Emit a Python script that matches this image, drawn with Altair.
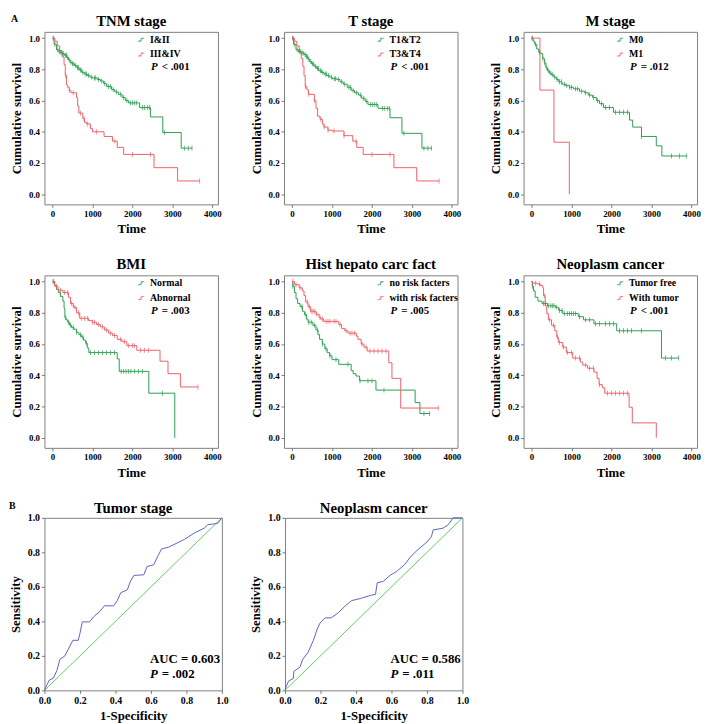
import altair as alt
import pandas as pd

GREEN = "#2a9e4e"
RED = "#ee6068"
BLUE = "#5a64c0"
DIAG = "#5fd060"
FONT = "Liberation Serif"

# ---------------- KM data ----------------
tnm_groups = ["I&II", "III&IV"]
tnm_g_t = [0, 40, 100, 160, 230, 300, 360, 400, 440, 490, 550, 610, 670, 740, 800, 870, 940, 1000, 1120, 1200, 1280, 1350, 1480, 1560, 1650, 1740, 1820, 1900, 2180, 2450, 2760, 3220, 3490]
tnm_g_s = [1.0, 0.96, 0.925, 0.91, 0.9, 0.89, 0.875, 0.86, 0.845, 0.835, 0.825, 0.81, 0.795, 0.78, 0.77, 0.76, 0.75, 0.745, 0.735, 0.725, 0.71, 0.69, 0.67, 0.655, 0.64, 0.62, 0.6, 0.585, 0.555, 0.495, 0.395, 0.295, 0.295]
tnm_g_c = [20, 60, 130, 180, 210, 250, 280, 330, 350, 380, 420, 460, 500, 530, 580, 630, 650, 700, 720, 760, 820, 850, 900, 980, 1050, 1080, 1150, 1230, 1300, 1400, 1450, 1520, 1600, 1700, 1780, 1860, 1950, 2000, 2050, 2100, 2250, 2300, 2380, 2430, 2800, 3300, 3400, 3490]
tnm_r_t = [0, 60, 120, 180, 240, 290, 320, 350, 380, 420, 460, 600, 630, 660, 760, 800, 850, 950, 1000, 1290, 1500, 1620, 1780, 2540, 3130, 3680]
tnm_r_s = [1.0, 0.98, 0.95, 0.92, 0.88, 0.83, 0.76, 0.70, 0.685, 0.665, 0.65, 0.62, 0.565, 0.52, 0.485, 0.46, 0.45, 0.42, 0.40, 0.37, 0.34, 0.30, 0.255, 0.17, 0.085, 0.085]
tnm_r_c = [25, 330, 420, 520, 700, 790, 880, 1100, 1560, 2000, 2450, 3680]

t_groups = ["T1&T2", "T3&T4"]
t_g_t = [0, 40, 100, 160, 230, 300, 350, 400, 440, 490, 550, 610, 670, 740, 800, 870, 940, 1000, 1120, 1200, 1280, 1380, 1480, 1560, 1660, 1740, 1830, 1900, 2150, 2450, 2750, 3250, 3490]
t_g_s = [1.0, 0.96, 0.925, 0.915, 0.905, 0.895, 0.88, 0.865, 0.85, 0.835, 0.82, 0.805, 0.79, 0.78, 0.77, 0.76, 0.75, 0.74, 0.735, 0.72, 0.705, 0.685, 0.665, 0.65, 0.635, 0.615, 0.595, 0.575, 0.55, 0.49, 0.39, 0.295, 0.295]
t_g_c = [20, 60, 130, 180, 210, 250, 280, 330, 360, 390, 420, 470, 510, 540, 590, 640, 660, 710, 730, 770, 830, 860, 910, 990, 1060, 1090, 1160, 1240, 1310, 1420, 1460, 1530, 1610, 1710, 1790, 1870, 1960, 2010, 2060, 2110, 2260, 2310, 2390, 2440, 2800, 3300, 3400, 3490]
t_r_t = [0, 60, 120, 180, 230, 270, 300, 330, 370, 410, 560, 600, 640, 700, 760, 800, 900, 1000, 1300, 1520, 1620, 1780, 2550, 3120, 3680]
t_r_s = [1.0, 0.98, 0.95, 0.91, 0.87, 0.82, 0.76, 0.69, 0.67, 0.64, 0.6, 0.55, 0.5, 0.48, 0.45, 0.43, 0.41, 0.405, 0.375, 0.34, 0.30, 0.255, 0.17, 0.085, 0.085]
t_r_c = [25, 340, 420, 560, 720, 800, 900, 1050, 1300, 1600, 2000, 2450, 3680]

m_groups = ["M0", "M1"]
m_g_t = [0, 40, 80, 130, 180, 230, 280, 320, 360, 400, 450, 500, 560, 620, 680, 760, 850, 950, 1050, 1200, 1320, 1420, 1520, 1620, 1700, 1800, 2050, 2450, 2530, 2750, 3120, 3260, 3880]
m_g_s = [1.0, 0.98, 0.96, 0.93, 0.91, 0.9, 0.87, 0.84, 0.81, 0.79, 0.775, 0.765, 0.75, 0.735, 0.72, 0.705, 0.695, 0.685, 0.675, 0.66, 0.65, 0.635, 0.62, 0.6, 0.58, 0.555, 0.525, 0.475, 0.43, 0.37, 0.31, 0.245, 0.245]
m_g_c = [20, 100, 200, 280, 330, 380, 430, 480, 530, 580, 640, 700, 750, 820, 880, 950, 1000, 1100, 1150, 1250, 1350, 1450, 1550, 1650, 1750, 1850, 1950, 2100, 2200, 2300, 2400, 2750, 3500, 3700, 3880]
m_r_t = [0, 210, 560, 945]
m_r_s = [1.0, 0.667, 0.333, 0.0]
m_r_c = [10]

bmi_groups = ["Normal", "Abnornal"]
bmi_g_t = [0, 50, 100, 150, 200, 260, 290, 310, 340, 380, 430, 480, 540, 600, 660, 720, 780, 830, 870, 910, 1620, 1670, 2410, 3060]
bmi_g_s = [1.0, 0.975, 0.95, 0.93, 0.905, 0.875, 0.83, 0.77, 0.755, 0.74, 0.72, 0.705, 0.695, 0.675, 0.66, 0.645, 0.625, 0.605, 0.575, 0.545, 0.505, 0.425, 0.285, 0.0]
bmi_g_c = [20, 330, 400, 450, 520, 600, 700, 760, 850, 950, 1050, 1150, 1250, 1350, 1450, 1550, 1720, 1780, 1840, 1900, 1960, 2050, 2150, 2250, 2750]
bmi_r_t = [0, 60, 140, 260, 400, 450, 520, 600, 680, 900, 1000, 1100, 1200, 1300, 1400, 1500, 1620, 1740, 1860, 2110, 2690, 2890, 3200, 3640]
bmi_r_s = [1.0, 0.97, 0.945, 0.93, 0.9, 0.86, 0.835, 0.8, 0.765, 0.75, 0.74, 0.725, 0.71, 0.69, 0.67, 0.655, 0.63, 0.615, 0.59, 0.56, 0.49, 0.41, 0.325, 0.325]
bmi_r_c = [20, 100, 200, 300, 380, 480, 560, 650, 720, 800, 880, 1000, 1050, 1150, 1250, 1350, 1450, 1550, 1700, 1800, 1900, 2000, 2050, 2200, 2300, 2400, 3640]

hist_groups = ["no risk facters", "with risk facters"]
hist_g_t = [0, 20, 60, 100, 140, 200, 260, 310, 360, 400, 520, 600, 650, 690, 760, 820, 880, 940, 1000, 1170, 1480, 1530, 1600, 1690, 2100, 3080, 3200, 3440]
hist_g_s = [1.0, 0.97, 0.93, 0.89, 0.86, 0.84, 0.81, 0.79, 0.76, 0.74, 0.72, 0.69, 0.66, 0.63, 0.6, 0.57, 0.545, 0.525, 0.5, 0.47, 0.43, 0.41, 0.395, 0.365, 0.305, 0.225, 0.155, 0.155]
hist_g_c = [20, 250, 330, 420, 480, 560, 640, 760, 850, 950, 1100, 1400, 1700, 1900, 2000, 2300, 3300, 3440]
hist_r_t = [0, 60, 180, 260, 300, 340, 400, 460, 600, 680, 720, 790, 1170, 1240, 1320, 1400, 1610, 1650, 1730, 1800, 1880, 2420, 2500, 2720, 3660]
hist_r_s = [1.0, 0.98, 0.96, 0.94, 0.91, 0.87, 0.84, 0.81, 0.79, 0.77, 0.76, 0.745, 0.725, 0.70, 0.685, 0.67, 0.65, 0.63, 0.6, 0.58, 0.555, 0.48, 0.38, 0.19, 0.19]
hist_r_c = [20, 100, 200, 380, 430, 480, 520, 560, 620, 700, 760, 850, 900, 950, 1050, 1100, 1200, 1350, 1450, 1500, 1560, 1750, 1850, 1950, 2050, 2150, 2250, 2350, 3660]

neo_groups = ["Tumor free", "With tumor"]
neo_g_t = [0, 20, 50, 90, 160, 260, 400, 600, 680, 780, 1170, 1300, 1560, 2130, 3250, 3680]
neo_g_s = [1.0, 0.97, 0.94, 0.9, 0.875, 0.86, 0.845, 0.835, 0.815, 0.795, 0.775, 0.755, 0.73, 0.685, 0.51, 0.51]
neo_g_c = [20, 300, 350, 420, 480, 520, 560, 620, 700, 760, 820, 900, 950, 1000, 1050, 1100, 1200, 1350, 1450, 1600, 1700, 1850, 1950, 2050, 2200, 2300, 2400, 2500, 2750, 3350, 3500, 3680]
neo_r_t = [0, 20, 140, 220, 280, 300, 340, 380, 420, 500, 580, 630, 670, 780, 870, 1030, 1220, 1280, 1400, 1560, 1640, 1690, 1770, 1830, 2440, 2520, 3120]
neo_r_s = [1.0, 0.99, 0.985, 0.975, 0.96, 0.91, 0.845, 0.795, 0.755, 0.72, 0.685, 0.645, 0.61, 0.58, 0.545, 0.51, 0.485, 0.465, 0.445, 0.42, 0.38, 0.34, 0.32, 0.285, 0.195, 0.095, 0.0]
neo_r_c = [20, 100, 200, 320, 450, 550, 650, 700, 800, 900, 1000, 1100, 1200, 1350, 1450, 1550, 1700, 1900, 2000, 2100, 2200, 2300, 2400]

km_titles = ["TNM stage", "T stage", "M stage", "BMI", "Hist hepato carc fact", "Neoplasm cancer"]
km_p_ops = ["<", "<", "=", "=", "=", "<"]
km_p_vals = [".001", ".001", ".012", ".003", ".005", ".001"]
x_ticks = [0, 1000, 2000, 3000, 4000]
y_ticks = [0.0, 0.2, 0.4, 0.6, 0.8, 1.0]

# ---------------- ROC data ----------------
roc_titles = ["Tumor stage", "Neoplasm cancer"]
roc1_fpr = [0, 0.013, 0.028, 0.05, 0.07, 0.087, 0.115, 0.133, 0.16, 0.19, 0.2, 0.213, 0.254, 0.28, 0.31, 0.337, 0.39, 0.41, 0.43, 0.467, 0.485, 0.504, 0.56, 0.578, 0.615, 0.64, 0.66, 0.70, 0.735, 0.79, 0.846, 0.9, 0.92, 0.976, 1.0]
roc1_tpr = [0, 0.03, 0.06, 0.07, 0.115, 0.18, 0.2, 0.236, 0.29, 0.29, 0.33, 0.397, 0.397, 0.43, 0.455, 0.49, 0.49, 0.52, 0.566, 0.583, 0.634, 0.666, 0.67, 0.718, 0.727, 0.78, 0.82, 0.83, 0.848, 0.876, 0.913, 0.94, 0.96, 0.968, 1.0]
roc2_fpr = [0, 0.01, 0.02, 0.047, 0.05, 0.084, 0.1, 0.13, 0.16, 0.18, 0.197, 0.225, 0.26, 0.3, 0.34, 0.375, 0.43, 0.48, 0.51, 0.52, 0.553, 0.59, 0.63, 0.675, 0.71, 0.75, 0.8, 0.825, 0.835, 0.89, 0.92, 0.947, 1.0]
roc2_tpr = [0, 0.03, 0.054, 0.069, 0.11, 0.134, 0.18, 0.22, 0.29, 0.35, 0.39, 0.42, 0.42, 0.45, 0.49, 0.52, 0.534, 0.55, 0.557, 0.624, 0.631, 0.665, 0.69, 0.73, 0.777, 0.817, 0.86, 0.89, 0.93, 0.94, 0.96, 1.0, 1.0]
roc_auc = ["AUC = 0.603", "AUC = 0.586"]
roc_p = [".002", ".011"]
diag = [0.0, 1.0]
roc_ticks = [0.0, 0.2, 0.4, 0.6, 0.8, 1.0]

KW, KH = 176, 175
RW, RH = 180, 175


def surv_at(ts, ss, t):
    v = ss[0]
    for ti, si in zip(ts, ss):
        if ti <= t:
            v = si
    return v


def txt(s, x, y, size=11, italic=False, align="left"):
    return alt.Chart(pd.DataFrame({"t": [s]})).mark_text(
        font=FONT, fontWeight="bold", fontStyle="italic" if italic else "normal",
        fontSize=size, align=align, baseline="middle", color="black"
    ).encode(text="t:N", x=alt.value(x), y=alt.value(y))


def km_panel(title, groups, g, r, p_op, p_val, extra=None):
    rows, crow = [], []
    for name, (ts, ss, cs) in zip(groups, [g, r]):
        for t, s in zip(ts, ss):
            rows.append({"time": t, "surv": s, "group": name})
        for c in cs:
            crow.append({"time": c, "surv": surv_at(ts, ss, c), "group": name})
    df = pd.DataFrame(rows)
    cdf = pd.DataFrame(crow)
    xenc = alt.X("time:Q", scale=alt.Scale(domain=[-200, 4140], nice=False, zero=False),
                 axis=alt.Axis(values=x_ticks, title="Time", format="d", labelFontSize=9))
    yenc = alt.Y("surv:Q", scale=alt.Scale(domain=[-0.065, 1.04], nice=False, zero=False),
                 axis=alt.Axis(values=y_ticks, title="Cumulative survival", format=".1f", labelFontSize=9))
    leg = alt.Legend(orient="none", legendX=93, legendY=3, title=None,
                     symbolType="M-1,0.5L0,0.5L0,-0.5L1,-0.5", symbolSize=40,
                     symbolStrokeWidth=1, symbolFillColor="transparent",
                     labelFont=FONT, labelFontWeight="bold", labelFontSize=10,
                     labelColor="black", rowPadding=5, labelOffset=4, padding=0)
    cenc = alt.Color("group:N", scale=alt.Scale(domain=groups, range=[GREEN, RED]), legend=leg)
    line = alt.Chart(df).mark_line(interpolate="step-after", strokeWidth=1).encode(x=xenc, y=yenc, color=cenc)
    ticks = alt.Chart(cdf).mark_tick(orient="vertical", size=5, thickness=1).encode(x=xenc, y=yenc, color=cenc)
    layers = [line, ticks, txt(title, KW / 2, -11, size=15, align="center"),
              txt("P", 108, 36, italic=True), txt(p_op + "  " + p_val, 119, 36)]
    if extra is not None:
        layers.append(extra)
    return alt.layer(*layers).properties(width=KW, height=KH)


def roc_panel(title, fpr, tpr, auc, pv, extra=None):
    df = pd.DataFrame({"fpr": fpr, "tpr": tpr, "i": list(range(len(fpr)))})
    dd = pd.DataFrame({"fpr": diag, "tpr": diag, "i": [0, 1]})
    xenc = alt.X("fpr:Q", scale=alt.Scale(domain=[0, 1], nice=False),
                 axis=alt.Axis(values=roc_ticks, title="1-Specificity", format=".1f", labelFontSize=10))
    yenc = alt.Y("tpr:Q", scale=alt.Scale(domain=[0, 1], nice=False),
                 axis=alt.Axis(values=roc_ticks, title="Sensitivity", format=".1f", labelFontSize=10))
    d = alt.Chart(dd).mark_line(color=DIAG, strokeWidth=1).encode(x=xenc, y=yenc, order="i:Q")
    c = alt.Chart(df).mark_line(color=BLUE, strokeWidth=1).encode(x=xenc, y=yenc, order="i:Q")
    layers = [d, c, txt(title, RW / 2, -10, size=15, align="center"),
              txt(auc, 107, 143, size=13), txt("P", 107, 158, size=13, italic=True),
              txt("=  " + pv, 119, 158, size=13)]
    if extra is not None:
        layers.append(extra)
    return alt.layer(*layers).properties(width=RW, height=RH)


labA = txt("A", -34, -13, size=10)
labB = txt("B", -36, -12, size=10)

p1 = km_panel(km_titles[0], tnm_groups, (tnm_g_t, tnm_g_s, tnm_g_c), (tnm_r_t, tnm_r_s, tnm_r_c), km_p_ops[0], km_p_vals[0], labA)
p2 = km_panel(km_titles[1], t_groups, (t_g_t, t_g_s, t_g_c), (t_r_t, t_r_s, t_r_c), km_p_ops[1], km_p_vals[1])
p3 = km_panel(km_titles[2], m_groups, (m_g_t, m_g_s, m_g_c), (m_r_t, m_r_s, m_r_c), km_p_ops[2], km_p_vals[2])
p4 = km_panel(km_titles[3], bmi_groups, (bmi_g_t, bmi_g_s, bmi_g_c), (bmi_r_t, bmi_r_s, bmi_r_c), km_p_ops[3], km_p_vals[3])
p5 = km_panel(km_titles[4], hist_groups, (hist_g_t, hist_g_s, hist_g_c), (hist_r_t, hist_r_s, hist_r_c), km_p_ops[4], km_p_vals[4])
p6 = km_panel(km_titles[5], neo_groups, (neo_g_t, neo_g_s, neo_g_c), (neo_r_t, neo_r_s, neo_r_c), km_p_ops[5], km_p_vals[5])
r1 = roc_panel(roc_titles[0], roc1_fpr, roc1_tpr, roc_auc[0], roc_p[0], labB)
r2 = roc_panel(roc_titles[1], roc2_fpr, roc2_tpr, roc_auc[1], roc_p[1])

row1 = alt.hconcat(p1, p2, p3, spacing=28).resolve_scale(color="independent").resolve_legend(color="independent")
row2 = alt.hconcat(p4, p5, p6, spacing=28).resolve_scale(color="independent").resolve_legend(color="independent")
row3 = alt.hconcat(r1, r2, spacing=21)

chart = alt.vconcat(row1, row2, row3, spacing=20).resolve_scale(color="independent").resolve_legend(color="independent").properties(
    padding=0, background="white"
).configure_axis(
    labelFont=FONT, labelFontWeight="bold", labelColor="black", labelFlush=False, labelOverlap=False,
    titleFont=FONT, titleFontWeight="bold", titleFontSize=13, titleColor="black",
    grid=False, domain=False, tickColor="#777777", tickSize=3, labelPadding=2, titlePadding=5
).configure_view(stroke="#7f7f7f", strokeWidth=1)

chart.save("out.html", embed_options={"renderer": "svg", "actions": False})
